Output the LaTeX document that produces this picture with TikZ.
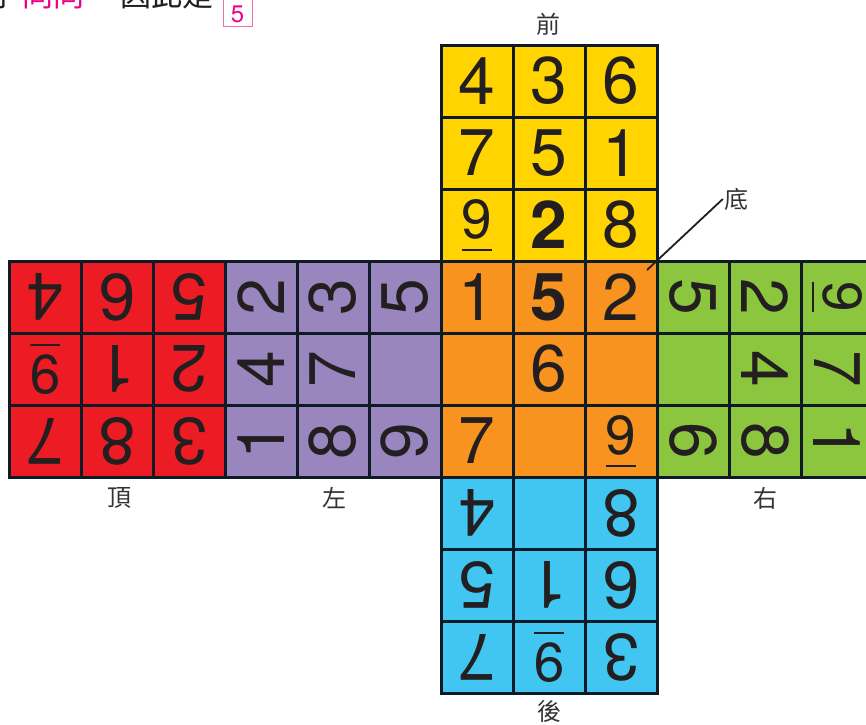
\documentclass[tikz,border=0pt]{standalone}
\usepackage{fontspec}
\setmainfont{TeX Gyre Heros}
\newfontfamily\cjk{Noto Sans CJK TC}
\definecolor{edge}{HTML}{0E1A26}
\definecolor{ink}{HTML}{231F20}
\definecolor{cred}{HTML}{ED1C24}
\definecolor{cpurple}{HTML}{9A86BE}
\definecolor{corange}{HTML}{F7931E}
\definecolor{cyellow}{HTML}{FFD400}
\definecolor{cgreen}{HTML}{8CC63F}
\definecolor{cblue}{HTML}{41C6F2}
\definecolor{lbltext}{HTML}{333333}
\definecolor{pinkink}{HTML}{EC008C}
\definecolor{pinkline}{HTML}{F06EAA}
\tikzset{
  cell/.style={draw=edge, line width=3pt, minimum size=72pt, inner sep=0pt,
    text=ink, font=\fontsize{66}{66}\selectfont},
  lbl/.style={font=\cjk\fontsize{24}{24}\selectfont, text=lbltext, inner sep=1pt},
  toptext/.style={font=\cjk\fontsize{31}{31}\selectfont, inner sep=0pt, anchor=base west},
  leader/.style={draw=ink, line width=1.8pt},
}
\newcommand\ul[1]{\setbox0=\hbox{\fontsize{55}{55}\selectfont #1}\rlap{\raisebox{12pt}{\copy0}}\rule{\wd0}{2pt}}
\newcommand\cubeface[6]{%
  \foreach \d [count=\i from 0] in {#6}{%
    \pgfmathtruncatemacro\cc{#2+mod(\i,3)}%
    \pgfmathtruncatemacro\rr{#3+floor(\i/3)}%
    \node[cell, fill=#4, rotate=#5] (#1-\i) at ({9+72*\cc+36},{45+72*\rr+36}) {\d};
  }}
\begin{document}
\begin{tikzpicture}[x=1pt,y=-1pt]
\useasboundingbox (0,0) rectangle (866,724);
% faces
\cubeface{front}{6}{0}{cyellow}{0}{4,3,6,7,5,1,{\ul{9}},{\textbf{2}},8}
\cubeface{top}{0}{3}{cred}{180}{4,6,5,{\ul{9}},1,2,7,8,3}
\cubeface{left}{3}{3}{cpurple}{90}{2,3,5,4,7,{},1,8,9}
\cubeface{bottom}{6}{3}{corange}{0}{1,{\textbf{5}},2,{},6,{},7,{},{\ul{9}}}
\cubeface{right}{9}{3}{cgreen}{-90}{5,2,{\ul{9}},{},4,7,6,8,1}
\cubeface{back}{6}{6}{cblue}{180}{4,{},8,5,1,6,7,{\ul{9}},3}
% labels
\node[lbl] (lfront) at (548,24) {前};
\node[lbl] (ltop) at (119,498) {頂};
\node[lbl] (lleft) at (334,498) {左};
\node[lbl] (lright) at (765,498) {右};
\node[lbl] (lback) at (549,711) {後};
\node[lbl] (lbottom) at (736,199) {底};
\coordinate (bpt) at (647,270);
\draw[leader] (lbottom.west) -- (bpt);
% clipped sentence at the top
\node[toptext, text=ink] (s1) at (-21,6) {可};
\node[toptext, text=pinkink] (s2) at (22,6) {同同};
\node[toptext, text=ink] (s3) at (120,6) {因此是};
\node[draw=pinkline, line width=1pt, minimum width=29pt, minimum height=31pt,
  inner sep=0pt, text height=23pt, text depth=0pt, text=pinkink,
  font=\fontsize{24}{24}\selectfont] (ans) at (237.5,10.5) {5};
\end{tikzpicture}
\end{document}
